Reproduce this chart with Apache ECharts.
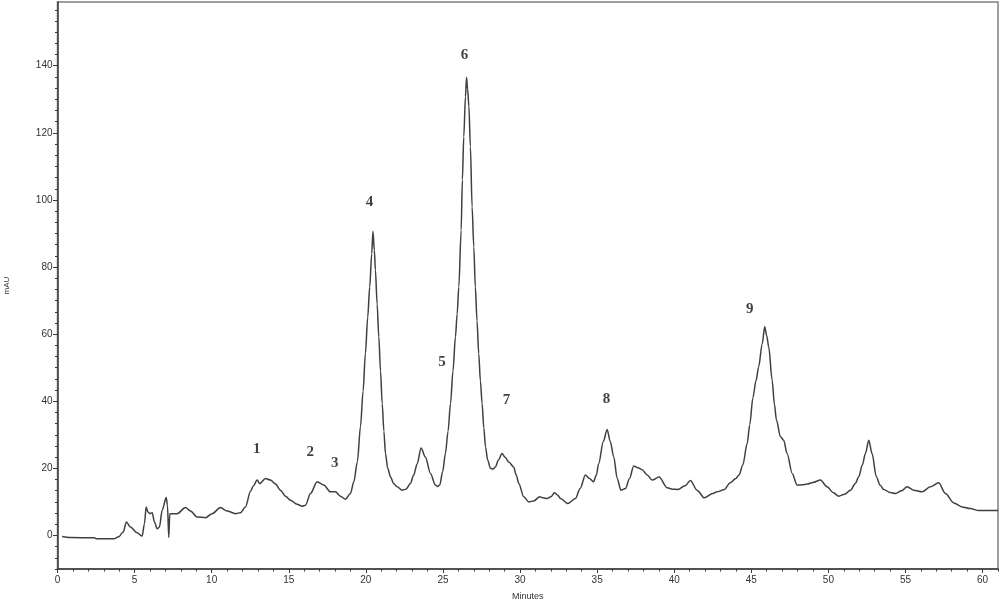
<!DOCTYPE html>
<html>
<head>
<meta charset="utf-8">
<script src="https://cdn.jsdelivr.net/npm/echarts@6/dist/echarts.min.js"></script>
<style>html,body{margin:0;padding:0;background:#fff;}#c{width:1000px;height:603px;}</style>
</head>
<body>
<div id="c"></div>
<script>
// Retention time (minutes)
const times = [0.3,0.8,2.4,2.5,3.65,3.97,4.26,4.47,4.73,5.17,5.49,5.64,5.75,5.86,5.99,6.14,6.29,6.46,6.61,6.79,7.05,7.13,7.22,7.28,7.76,8.3,8.62,9.06,9.6,10.03,10.57,11.0,11.54,11.87,12.19,12.52,12.69,12.95,13.12,13.49,13.81,14.14,14.46,14.79,15.11,15.54,15.87,16.08,16.41,16.84,17.27,17.7,18.03,18.35,18.68,19.0,19.22,19.45,19.65,19.82,19.97,20.12,20.25,20.38,20.46,20.55,20.62,20.73,20.84,20.95,21.06,21.17,21.27,21.42,21.6,21.8,22.03,22.35,22.6,22.89,23.1,23.33,23.58,23.86,24.19,24.51,24.65,24.79,24.98,25.16,25.33,25.49,25.65,25.81,25.92,26.03,26.18,26.26,26.35,26.46,26.53,26.6,26.68,26.78,26.89,27.0,27.1,27.21,27.32,27.43,27.54,27.65,27.76,27.9,28.08,28.25,28.4,28.6,28.83,29.05,29.27,29.59,29.75,29.92,30.24,30.57,30.89,31.28,31.5,31.76,32.0,32.23,32.45,32.62,33.1,33.59,33.9,34.24,34.5,34.76,34.95,35.1,35.4,35.65,35.85,36.08,36.3,36.54,36.84,37.1,37.37,37.65,37.92,38.25,38.57,39.02,39.54,39.9,40.24,40.7,41.05,41.48,41.95,42.5,42.78,43.21,43.64,44.0,44.2,44.45,44.73,44.9,45.1,45.3,45.48,45.7,45.87,46.0,46.13,46.35,46.5,46.63,46.89,47.1,47.32,47.65,47.97,48.3,48.62,49.0,49.48,49.92,50.3,50.67,51.05,51.43,51.75,51.97,52.2,52.4,52.62,52.83,53.11,53.35,53.59,54.0,54.35,54.75,55.1,55.53,56.08,56.61,57.15,57.59,58.13,58.67,59.2,59.75,61.0];
// Absorbance (mAU)
const absorbance = [-0.3,-0.6,-0.7,-1.0,-1.0,-0.4,1.0,4.0,2.5,0.8,-0.2,3.5,8.5,7.0,6.5,6.8,4.0,2.0,2.5,7.5,11.3,9.0,-0.6,6.5,6.5,8.3,7.3,5.5,5.3,6.5,8.3,7.3,6.5,6.8,8.5,13.2,14.7,16.5,15.5,17.0,16.5,15.3,13.5,11.7,10.5,9.3,8.7,9.0,12.5,16.0,15.0,13.0,13.0,11.7,10.8,12.5,16.0,22.0,32.4,43.0,54.2,65.0,74.1,84.0,90.7,85.0,79.1,69.0,59.2,49.0,39.3,31.0,24.4,20.0,17.4,15.5,14.5,13.5,13.8,15.5,18.0,21.4,26.1,23.4,18.5,15.0,14.6,15.0,19.0,24.4,31.0,39.3,49.0,59.2,66.0,74.1,91.0,106.0,118.8,130.8,136.6,133.0,128.0,115.9,98.0,86.0,74.1,64.0,54.2,46.0,39.3,32.0,26.4,22.5,20.0,19.8,20.4,22.5,24.4,23.2,21.9,20.4,18.0,15.5,11.5,10.0,10.3,11.5,11.2,11.0,11.5,12.7,12.0,11.0,9.5,11.0,14.0,18.0,17.0,16.0,18.0,21.4,28.0,31.6,28.0,23.4,17.0,13.5,14.0,17.0,20.7,20.2,19.6,18.0,16.5,17.4,14.2,13.8,13.7,14.8,16.4,13.5,11.2,12.5,13.0,13.6,15.7,17.0,18.0,21.0,27.4,33.0,41.0,46.0,50.3,57.0,62.2,59.5,56.2,46.3,39.0,34.4,29.4,28.4,24.4,18.5,15.0,15.1,15.3,15.8,16.5,14.5,12.8,11.7,12.3,13.5,15.5,17.5,21.0,24.4,28.4,24.4,17.5,15.0,13.7,12.8,12.5,13.3,14.5,13.5,13.0,14.5,15.7,12.5,9.7,8.5,8.0,7.4,7.4];

// Peak annotations
const peakNames = ['1','2','3','4','5','6','7','8','9'];
const peakX = [12.93,16.4,17.98,20.23,24.94,26.4,29.12,35.6,44.9];
const peakY = [25.7,24.8,21.6,99.3,51.7,143.1,40.3,40.6,67.4];

// Tick labels
const xTickValues = [0,5,10,15,20,25,30,35,40,45,50,55,60];
const yTickValues = [0,20,40,60,80,100,120,140];
const xMinorStep = 1;
const yMinorStep = 10/3;

const X_MIN = 0, X_MAX = 61, Y_MIN = -10, Y_MAX = 159;

const xMinor = [];
for (let v = X_MIN; v <= X_MAX + 1e-6; v += xMinorStep) xMinor.push(+v.toFixed(4));
const yMinor = [];
for (let i = 0; Y_MIN + i * yMinorStep <= Y_MAX + 1e-6; i++) yMinor.push(+(Y_MIN + i * yMinorStep).toFixed(4));

const lineData = times.map((t, i) => [t, absorbance[i]]);
const peakData = peakNames.map((n, i) => ({ name: n, value: [peakX[i], peakY[i]] }));

const axisColor = '#3a3a3a';
const labelStyle = { color: '#333', fontSize: 10, fontFamily: 'Liberation Sans, Arial, sans-serif' };

const chart = echarts.init(document.getElementById('c'), null, { renderer: 'canvas' });
chart.setOption({
  animation: false,
  backgroundColor: '#fff',
  grid: { left: 57.5, right: 2, top: 2, bottom: 34, containLabel: false, outerBoundsMode: 'none', show: true, borderColor: '#808080', borderWidth: 1.5, backgroundColor: 'transparent' },
  xAxis: [
    {
      type: 'value', min: X_MIN, max: X_MAX,
      name: 'Minutes', nameLocation: 'middle', nameGap: 23,
      nameTextStyle: { color: '#333', fontSize: 9, fontFamily: 'Liberation Sans, Arial, sans-serif' },
      axisLine: { show: true, onZero: false, lineStyle: { color: axisColor, width: 1.5 } },
      axisTick: { show: true, customValues: xTickValues, length: 4, lineStyle: { color: axisColor, width: 1 } },
      axisLabel: Object.assign({ customValues: xTickValues, margin: 6 }, labelStyle),
      splitLine: { show: false }
    },
    {
      type: 'value', min: X_MIN, max: X_MAX, position: 'bottom',
      axisLine: { show: false, onZero: false },
      axisTick: { show: true, customValues: xMinor, length: 2.5, lineStyle: { color: axisColor, width: 1 } },
      axisLabel: { show: false },
      splitLine: { show: false }
    }
  ],
  yAxis: [
    {
      type: 'value', min: Y_MIN, max: Y_MAX,
      name: 'mAU', nameLocation: 'middle', nameGap: 47, nameRotate: 90,
      nameTextStyle: { color: '#333', fontSize: 8, fontFamily: 'Liberation Sans, Arial, sans-serif' },
      axisLine: { show: true, onZero: false, lineStyle: { color: axisColor, width: 1.5 } },
      axisTick: { show: true, customValues: yTickValues, length: 4.5, lineStyle: { color: axisColor, width: 1 } },
      axisLabel: Object.assign({ customValues: yTickValues, margin: 5 }, labelStyle),
      splitLine: { show: false }
    },
    {
      type: 'value', min: Y_MIN, max: Y_MAX, position: 'left',
      axisLine: { show: false, onZero: false },
      axisTick: { show: true, customValues: yMinor, length: 2.5, lineStyle: { color: axisColor, width: 1 } },
      axisLabel: { show: false },
      splitLine: { show: false }
    }
  ],
  series: [
    {
      type: 'line', data: lineData, xAxisIndex: 0, yAxisIndex: 0,
      showSymbol: false, symbol: 'none', smooth: 0.3, smoothMonotone: 'x',
      lineStyle: { color: '#404040', width: 1.5 },
      z: 3
    },
    {
      type: 'scatter', data: peakData, xAxisIndex: 0, yAxisIndex: 0,
      symbolSize: 0,
      label: {
        show: true, position: 'inside', formatter: '{b}',
        fontFamily: 'Liberation Serif, Times New Roman, serif', fontWeight: 'bold', fontSize: 15, color: '#111'
      },
      z: 4
    }
  ]
});
</script>
</body>
</html>
